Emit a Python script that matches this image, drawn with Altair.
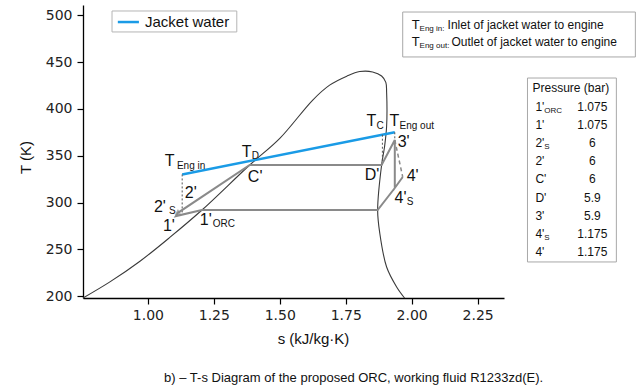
import altair as alt
import pandas as pd

# ---- saturation dome of R1233zd(E): liquid side, critical region, vapour side ----
dome_s = [0.754, 0.856, 0.970, 1.083, 1.205, 1.386, 1.500, 1.625, 1.689, 1.754,
          1.803, 1.852, 1.886, 1.902, 1.905, 1.905, 1.897, 1.886, 1.871, 1.879,
          1.905, 1.943, 1.973]
dome_T = [198.0, 215.2, 237.3, 262.7, 292.0, 340.1, 368.5, 409.5, 425.4, 435.0,
          439.9, 439.5, 435.2, 428.4, 417.7, 381.4, 359.3, 340.1, 292.0, 267.4,
          231.1, 209.8, 198.0]

# ---- ORC state points (path order) ----
cycle_s = [1.205, 1.106, 1.114, 1.386, 1.886, 1.936, 1.936, 1.966, 1.936, 1.871, 1.205]
cycle_T = [292.0, 285.5, 289.0, 340.1, 340.1, 366.8, 315.5, 327.3, 315.5, 292.0, 292.0]

# real expansion 3' -> 4'
exp_s = [1.936, 1.966]
exp_T = [366.8, 327.3]

# ---- jacket water line ----
jw_s = [1.130, 1.936]
jw_T = [330.0, 375.0]

# dotted guides (T_Eng in, T_C, T_Eng out)
guide_id = [0, 0, 1, 1, 2, 2]
guide_s = [1.130, 1.130, 1.889, 1.889, 1.936, 1.936]
guide_T = [330.0, 289.0, 372.4, 340.1, 375.0, 366.8]

# ---- point labels ----
lab_text = ["T", "T", "C'", "2'", "2'", "1'", "1'", "T", "T", "3'", "D'", "4'", "4'"]
lab_s = [1.064, 1.356, 1.379, 1.140, 1.023, 1.057, 1.197, 1.829, 1.916, 1.947, 1.822, 1.981, 1.935]
lab_T = [344.4, 354.5, 327.3, 310.2, 295.2, 275.0, 281.3, 387.1, 387.1, 364.6, 329.4, 328.3, 304.8]

sub_text = ["Eng in", "D", "S", "ORC", "C", "Eng out", "S"]
sub_s = [1.110, 1.394, 1.080, 1.246, 1.867, 1.954, 1.981]
sub_T = [339.0, 349.7, 291.0, 277.0, 381.7, 381.7, 300.6]

# ---- pressure table ----
row_main = ["1'", "1'", "2'", "2'", "C'", "D'", "3'", "4'", "4'"]
row_sub = ["ORC", "", "S", "", "", "", "", "S", ""]
pressure = [1.075, 1.075, 6, 6, 6, 5.9, 5.9, 1.175, 1.175]

FONT = "Liberation Sans"
GREY = "#8a8a8a"
BLUE = "#1a9be6"

xs = alt.Scale(domain=[0.754, 2.35], nice=False, zero=False)
ys = alt.Scale(domain=[198, 511], nice=False, zero=False)

x_axis = alt.Axis(values=[1.0, 1.25, 1.5, 1.75, 2.0, 2.25], format=".2f", grid=False,
                  domainColor="black", domainWidth=1.3, tickColor="black", tickSize=6,
                  tickWidth=1.2, labelFont="DejaVu Sans", labelFontSize=14,
                  labelColor="#222", labelPadding=4, title="s (kJ/kg·K)",
                  titleFont=FONT, titleFontSize=15, titleFontWeight="normal",
                  titleColor="#111", titleX=230, titleY=40, titleBaseline="middle",
                  titleAlign="center")
y_axis = alt.Axis(values=[200, 250, 300, 350, 400, 450, 500], grid=False,
                  domainColor="black", domainWidth=1.3, tickColor="black", tickSize=6,
                  tickWidth=1.2, labelFont="DejaVu Sans", labelFontSize=14,
                  labelColor="#222", labelPadding=5, title="T (K)",
                  titleFont=FONT, titleFontSize=15, titleFontWeight="normal",
                  titleColor="#111", titleX=-58, titleY=152, titleAngle=270,
                  titleBaseline="middle", titleAlign="center")


def X(field="s"):
    return alt.X(f"{field}:Q", scale=xs, axis=x_axis)


def Y(field="T"):
    return alt.Y(f"{field}:Q", scale=ys, axis=y_axis)


dome_df = pd.DataFrame({"s": dome_s, "T": dome_T, "i": range(len(dome_s))})
dome = alt.Chart(dome_df).mark_line(color="#3a3a3a", strokeWidth=1.1,
                                    interpolate="catmull-rom").encode(
    x=X(), y=Y(), order="i:Q")

cyc_df = pd.DataFrame({"s": cycle_s, "T": cycle_T, "i": range(len(cycle_s))})
cycle = alt.Chart(cyc_df).mark_line(color=GREY, strokeWidth=2).encode(
    x=X(), y=Y(), order="i:Q")

exp_df = pd.DataFrame({"s": exp_s, "T": exp_T})
expansion = alt.Chart(exp_df).mark_line(color=GREY, strokeWidth=1.5,
                                        strokeDash=[4, 3]).encode(x=X(), y=Y())

arrow = alt.Chart(pd.DataFrame({"s": [cycle_s[2]], "T": [cycle_T[2]]})).mark_point(
    shape="triangle", size=22, angle=240, color=GREY, strokeWidth=1, filled=False
).encode(x=X(), y=Y())

g_df = pd.DataFrame({"g": guide_id, "s": guide_s, "T": guide_T})
guides = alt.Chart(g_df).mark_line(color="#555", strokeWidth=1,
                                   strokeDash=[2, 2]).encode(
    x=X(), y=Y(), detail="g:N")

jw_df = pd.DataFrame({"s": jw_s, "T": jw_T})
jacket = alt.Chart(jw_df).mark_line(color=BLUE, strokeWidth=2.5).encode(x=X(), y=Y())

lab_df = pd.DataFrame({"s": lab_s, "T": lab_T, "t": lab_text})
labels = alt.Chart(lab_df).mark_text(font=FONT, fontSize=16, align="left",
                                     baseline="middle", color="#111").encode(
    x=X(), y=Y(), text="t:N")

sub_df = pd.DataFrame({"s": sub_s, "T": sub_T, "t": sub_text})
subs = alt.Chart(sub_df).mark_text(font=FONT, fontSize=10, align="left",
                                   baseline="middle", color="#111").encode(
    x=X(), y=Y(), text="t:N")

# ---- "Jacket water" key ----
key_box = alt.Chart(pd.DataFrame({"s": [0.864], "s2": [1.337], "T": [504.6], "T2": [482.2]})
                    ).mark_rect(fill="white", stroke="#b5b5b5", strokeWidth=1).encode(
    x=X(), x2="s2:Q", y=Y(), y2="T2:Q")
key_line = alt.Chart(pd.DataFrame({"s": [0.886, 0.966], "T": [492.8, 492.8]})).mark_line(
    color=BLUE, strokeWidth=2.5).encode(x=X(), y=Y())
key_text = alt.Chart(pd.DataFrame({"s": [0.989], "T": [492.8], "t": ["Jacket water"]})
                     ).mark_text(font=FONT, fontSize=15, align="left", baseline="middle",
                                 color="#111").encode(x=X(), y=Y(), text="t:N")

# ---- notes box (top right) ----
note_box = alt.Chart(pd.DataFrame({"s": [1.966], "s2": [2.848], "T": [503.5], "T2": [455.5]})
                     ).mark_rect(fill="white", stroke="#a8a8a8", strokeWidth=1).encode(
    x=X(), x2="s2:Q", y=Y(), y2="T2:Q")
note_T = alt.Chart(pd.DataFrame({"s": [2.000, 2.000], "T": [489.6, 471.5], "t": ["T", "T"]})
                   ).mark_text(font=FONT, fontSize=13, align="left", baseline="middle",
                               color="#111").encode(x=X(), y=Y(), text="t:N")
note_sub = alt.Chart(pd.DataFrame({"s": [2.030, 2.030], "T": [485.4, 467.3],
                                   "t": ["Eng in:", "Eng out:"]})
                     ).mark_text(font=FONT, fontSize=8, align="left", baseline="middle",
                                 color="#111").encode(x=X(), y=Y(), text="t:N")
note_txt = alt.Chart(pd.DataFrame({"s": [2.136, 2.151], "T": [489.6, 471.5],
                                   "t": ["Inlet of jacket water to engine",
                                         "Outlet of jacket water to engine"]})
                     ).mark_text(font=FONT, fontSize=12, align="left", baseline="middle",
                                 color="#111").encode(x=X(), y=Y(), text="t:N")

# ---- pressure table (right of the axes) ----
row_T = [402.0 - k * 19.33 for k in range(len(row_main))]
tab_df = pd.DataFrame({
    "T": row_T,
    "Tsub": [t - 4.3 for t in row_T],
    "main": row_main,
    "sub": row_sub,
    "val": [f"{v:g}" for v in pressure],
    "s_main": [2.469] * len(row_main),
    "s_sub": [2.503] * len(row_main),
    "s_val": [2.685] * len(row_main),
})
tab_box = alt.Chart(pd.DataFrame({"s": [2.439], "s2": [2.776], "T": [433.0], "T2": [236.5]})
                    ).mark_rect(fill="white", stroke="#a8a8a8", strokeWidth=1).encode(
    x=X(), x2="s2:Q", y=Y(), y2="T2:Q")
tab_head = alt.Chart(pd.DataFrame({"s": [2.458], "T": [422.3], "t": ["Pressure (bar)"]})
                     ).mark_text(font=FONT, fontSize=12, align="left", baseline="middle",
                                 color="#111").encode(x=X(), y=Y(), text="t:N")
tab_main = alt.Chart(tab_df).mark_text(font=FONT, fontSize=12, align="left",
                                       baseline="middle", color="#111").encode(
    x=X("s_main"), y=Y("T"), text="main:N")
tab_sub = alt.Chart(tab_df).mark_text(font=FONT, fontSize=8, align="left",
                                      baseline="middle", color="#111").encode(
    x=X("s_sub"), y=Y("Tsub"), text="sub:N")
tab_val = alt.Chart(tab_df).mark_text(font=FONT, fontSize=12, align="center",
                                      baseline="middle", color="#111").encode(
    x=X("s_val"), y=Y("T"), text="val:N")

caption = alt.Chart(pd.DataFrame({"s": [1.780], "T": [112.5],
                                  "t": ["b) – T-s Diagram of the proposed ORC, working fluid R1233zd(E)."]})
                    ).mark_text(font=FONT, fontSize=13, align="center", baseline="middle",
                                color="#111").encode(x=X(), y=Y(), text="t:N")

chart = alt.layer(
    dome, jacket, guides, cycle, expansion, arrow, labels, subs,
    key_box, key_line, key_text,
    note_box, note_T, note_sub, note_txt,
    tab_box, tab_head, tab_main, tab_sub, tab_val,
    caption,
).properties(
    width=421, height=293,
    autosize=alt.AutoSizeParams(type="none"),
    padding={"left": 83, "top": 5, "right": 133, "bottom": 91},
    background="white",
).configure_view(stroke=None)

chart.save("out.html", embed_options={"renderer": "svg", "actions": False})
